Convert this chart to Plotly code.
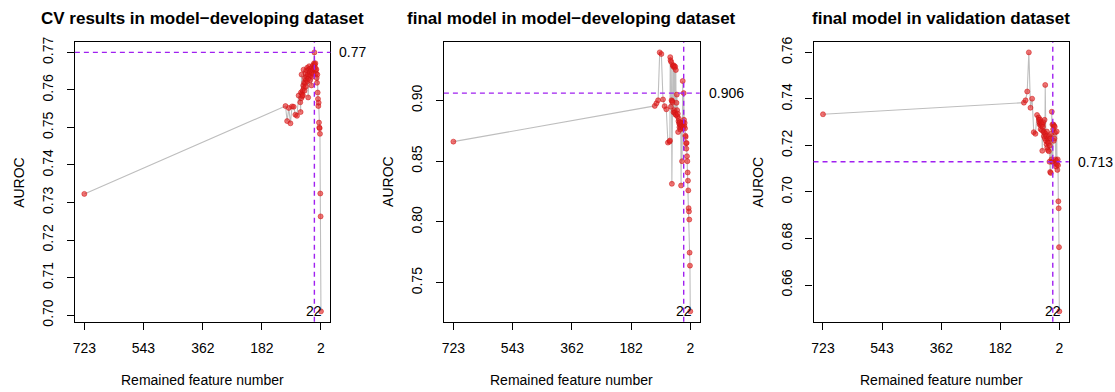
import plotly.graph_objects as go

# ---------------- data ----------------
feature_number = [723, 110, 105, 100, 95, 90, 85, 80, 75, 70,
                  65, 64, 63, 62, 61, 60, 59, 58, 57, 56,
                  55, 54, 53, 52, 51, 50, 49, 48, 47, 46,
                  45, 44, 43, 42, 41, 40, 39, 38, 37, 36,
                  35, 34, 33, 32, 31, 30, 29, 28, 27, 26,
                  25, 24, 23, 22, 21, 20, 19, 18, 17, 16,
                  15, 14, 13, 12, 11, 10, 9, 8, 7, 6,
                  5, 4, 3, 2]

cv_auroc = [0.7323,
            0.7557, 0.7517, 0.7552, 0.7511, 0.7556, 0.7555, 0.7534, 0.7531, 0.7585,
            0.7567, 0.7541, 0.7593, 0.7578, 0.7641, 0.7590, 0.7583, 0.7598, 0.7586, 0.7612,
            0.7654, 0.7605, 0.7620, 0.7598, 0.7631, 0.7618, 0.7644, 0.7609, 0.7627, 0.7652,
            0.7636, 0.7659, 0.7623, 0.7641, 0.7580, 0.7630, 0.7655, 0.7663, 0.7640, 0.7648,
            0.7626, 0.7657, 0.7638, 0.7651, 0.7612, 0.7645, 0.7660, 0.7635, 0.7652, 0.7666,
            0.7643, 0.7657, 0.7671, 0.7700, 0.7667, 0.7660, 0.7671, 0.7652, 0.7644, 0.7655,
            0.7632, 0.7619, 0.7641, 0.7593, 0.7576, 0.7557, 0.7566, 0.7513, 0.7500, 0.7498,
            0.7483, 0.7324, 0.7263, 0.7010]

dev_auroc = [0.8661,
             0.8955, 0.8976, 0.9001, 0.9395, 0.9382, 0.9008, 0.8953, 0.8927, 0.8653,
             0.8661, 0.8670, 0.9356, 0.9330, 0.8948, 0.9316, 0.9001, 0.8314, 0.8995, 0.8985,
             0.9290, 0.9280, 0.8903, 0.9288, 0.8920, 0.9270, 0.8900, 0.9278, 0.8885, 0.9250,
             0.8880, 0.8980, 0.9048, 0.8920, 0.8870, 0.8890, 0.8740, 0.8830, 0.8850, 0.8810,
             0.8780, 0.8820, 0.8800, 0.8760, 0.8790, 0.8300, 0.8775, 0.8815, 0.8500, 0.8790,
             0.9160, 0.8770, 0.8820, 0.9060, 0.8840, 0.8790, 0.8815, 0.8770, 0.8710, 0.8700,
             0.8648, 0.8603, 0.8650, 0.8541, 0.8500, 0.8407, 0.8340, 0.8260, 0.8114, 0.8087,
             0.8020, 0.7748, 0.7641, 0.7265]

val_auroc = [0.7334,
             0.7384, 0.7394, 0.7432, 0.7600, 0.7362, 0.7401, 0.7257, 0.7250, 0.7331,
             0.7320, 0.7310, 0.7300, 0.7290, 0.7312, 0.7295, 0.7270, 0.7285, 0.7300, 0.7292,
             0.7265, 0.7177, 0.7290, 0.7280, 0.7300, 0.7260, 0.7240, 0.7255, 0.7310, 0.7230,
             0.7460, 0.7250, 0.7220, 0.7240, 0.7205, 0.7260, 0.7190, 0.7215, 0.7180, 0.7230,
             0.7210, 0.7175, 0.7240, 0.7130, 0.7200, 0.7086, 0.7230, 0.7082, 0.7250, 0.7140,
             0.7345, 0.7130, 0.7290, 0.7130, 0.7270, 0.7290, 0.7220, 0.7285, 0.7230, 0.7280,
             0.7255, 0.7140, 0.7120, 0.7110, 0.7135, 0.7260, 0.7120, 0.7095, 0.7140, 0.7115,
             0.6960, 0.6930, 0.6763, 0.6487]

titles = ["CV results in model\u2212developing dataset",
          "final model in model\u2212developing dataset",
          "final model in validation dataset"]
x_tick_values = [723, 543, 362, 182, 2]
y_tick_values = [[0.70, 0.71, 0.72, 0.73, 0.74, 0.75, 0.76, 0.77],
                 [0.75, 0.80, 0.85, 0.90],
                 [0.66, 0.68, 0.70, 0.72, 0.74, 0.76]]
selected_number = 22
x_title = "Remained feature number"
y_title = "AUROC"

# ---------------- layout constants ----------------
W, H = 1115, 392
FONT = "Liberation Sans, Arial, Helvetica, sans-serif"


def px(xr):
    return xr / W


def py(yr):
    return 1 - yr / H


boxes = [(73, 329), (442.7, 699), (813, 1068.7)]
box_top, box_bottom = 38, 325
ydom = [py(box_bottom), py(box_top)]
PURPLE = "#A020F0"

fig = go.Figure()
series = [cv_auroc, dev_auroc, val_auroc]

xmin, xmax = min(feature_number), max(feature_number)
xpad = 0.04 * (xmax - xmin)
xrange_ = [xmax + xpad, xmin - xpad]

for i, yv in enumerate(series):
    n = "" if i == 0 else str(i + 1)
    xa, ya = "x" + n, "y" + n
    fig.add_trace(go.Scatter(
        x=feature_number, y=yv, xaxis=xa, yaxis=ya, mode="lines",
        line=dict(color="#BEBEBE", width=1.1), hoverinfo="skip", showlegend=False))
    fig.add_trace(go.Scatter(
        x=feature_number, y=yv, xaxis=xa, yaxis=ya, mode="markers",
        marker=dict(size=5, color="rgba(228,30,30,0.62)",
                    line=dict(color="rgba(205,20,20,0.75)", width=0.7)),
        showlegend=False))

    ymin, ymax = min(yv), max(yv)
    ypad = 0.04 * (ymax - ymin)
    x0, x1 = boxes[i]
    dom = [px(x0), px(x1)]
    axis_common = dict(showgrid=False, zeroline=False, showline=True, mirror=True,
                       linecolor="black", linewidth=1.2, ticks="outside", ticklen=7,
                       tickwidth=1.1, tickcolor="black",
                       tickfont=dict(family=FONT, size=14, color="black"))
    fig.layout["xaxis" + n] = dict(domain=dom, anchor=ya, range=xrange_,
                                   tickmode="array", tickvals=x_tick_values,
                                   ticktext=[str(v) for v in x_tick_values],
                                   ticklabelstandoff=6, **axis_common)
    fig.layout["yaxis" + n] = dict(domain=ydom, anchor=xa,
                                   range=[ymin - ypad, ymax + ypad],
                                   tickmode="array", tickvals=y_tick_values[i],
                                   tickformat=".2f", tickangle=-90,
                                   ticklabelstandoff=8, **axis_common)

    sel_val = yv[feature_number.index(selected_number)]
    fig.add_shape(type="line", xref=xa, yref=ya + " domain", x0=selected_number,
                  x1=selected_number, y0=0, y1=1,
                  line=dict(color=PURPLE, width=1.4, dash="5px,4px"))
    fig.add_shape(type="line", xref=xa + " domain", yref=ya, x0=0, x1=1,
                  y0=sel_val, y1=sel_val,
                  line=dict(color=PURPLE, width=1.4, dash="5px,4px"))

    # value label at right
    fig.add_annotation(x=px(x1), xref="paper", xanchor="left", xshift=7,
                       y=sel_val, yref=ya, yanchor="middle",
                       text=f"{round(sel_val, 3):g}", showarrow=False,
                       font=dict(family=FONT, size=14, color="black"))
    # selected number label
    fig.add_annotation(x=selected_number, xref=xa, xanchor="center",
                       y=py(313.5), yref="paper", yanchor="middle",
                       text=str(selected_number), showarrow=False,
                       font=dict(family=FONT, size=14, color="black"))
    # title
    fig.add_annotation(x=px((x0 + x1) / 2), xref="paper", xanchor="center",
                       y=py(14), yref="paper", yanchor="middle",
                       text="<b>" + titles[i] + "</b>", showarrow=False,
                       font=dict(family=FONT, size=17, color="black"))
    # axis titles
    fig.add_annotation(x=px((x0 + x1) / 2), xref="paper", xanchor="center",
                       y=py(384.5), yref="paper", yanchor="middle",
                       text=x_title, showarrow=False,
                       font=dict(family=FONT, size=14, color="black"))
    fig.add_annotation(x=px(x0 - 56), xref="paper", xanchor="center",
                       y=(ydom[0] + ydom[1]) / 2, yref="paper", yanchor="middle",
                       text=y_title, textangle=-90, showarrow=False,
                       font=dict(family=FONT, size=14, color="black"))

fig.update_layout(width=W, height=H, margin=dict(l=0, r=0, t=0, b=0),
                  plot_bgcolor="white", paper_bgcolor="white",
                  font=dict(family=FONT, size=14, color="black"))

# remove the page's default body margin so the figure fills the window exactly
fig.write_html("out.html",
               config={"displayModeBar": False},
               post_script="document.body.style.margin='0px';"
                           "document.body.style.overflow='hidden';")
